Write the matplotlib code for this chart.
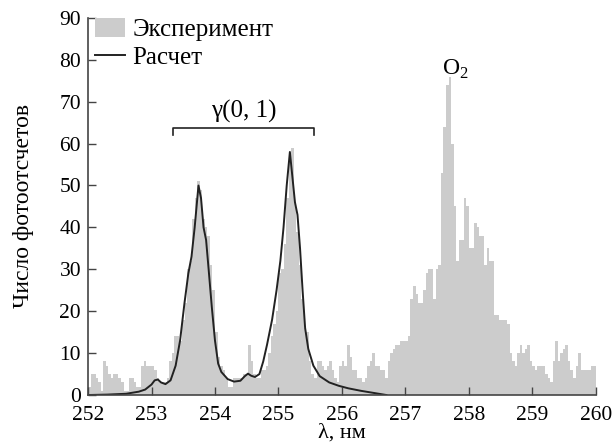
import numpy as np
import matplotlib
matplotlib.use("Agg")
import matplotlib.pyplot as plt

plt.rcParams['font.family'] = ['Liberation Serif', 'DejaVu Serif']
plt.rcParams['mathtext.fontset'] = 'custom'
plt.rcParams['mathtext.rm'] = 'Liberation Serif'

# experiment: photon counts per 0.04 nm bin, 252.00 .. 260.00 nm
bin_start = 252.0
bin_width = 0.04
counts = [
    2, 5, 5, 4, 3, 1, 8, 7, 5, 4, 5, 5, 4, 3, 1, 1, 4, 4, 3, 2, 2, 7, 8, 7, 7,
    7, 6, 4, 3, 3, 3, 4, 8, 10, 14, 14, 13, 18, 22, 30, 32, 42, 47, 51, 49, 42, 40, 38, 31, 25,
    15, 9, 7, 6, 4, 2, 2, 4, 4, 4, 4, 5, 5, 12, 8, 5, 4, 4, 6, 6, 7, 10, 14, 17, 20,
    29, 30, 36, 47, 56, 59, 46, 39, 31, 23, 16, 15, 8, 5, 4, 8, 8, 7, 6, 7, 8, 6, 4, 3, 7,
    8, 7, 12, 9, 6, 6, 4, 4, 3, 4, 7, 8, 10, 7, 7, 6, 6, 4, 8, 10, 11, 12, 12, 13, 13,
    13, 14, 23, 26, 24, 22, 22, 25, 29, 30, 30, 23, 30, 31, 53, 64, 74, 76, 60, 45, 32, 37, 37, 47,
    45, 35, 35, 41, 40, 38, 38, 31, 35, 32, 32, 19, 19, 18, 18, 18, 17, 10, 8, 7, 10,
    12, 10, 11, 12, 8, 7, 6, 7, 7, 7, 5, 4, 3, 8, 13, 8, 10, 11, 12, 8, 6, 4, 7, 10, 6,
    6, 6, 6, 7, 7,
]

# calculation
calc_wl = [252.0, 252.3, 252.6, 252.8, 252.9, 253.0, 253.05, 253.1, 253.15, 253.22,
           253.3, 253.38, 253.45, 253.52, 253.58, 253.63, 253.68, 253.74, 253.78, 253.82,
           253.86, 253.9, 253.95, 254.0, 254.05, 254.1, 254.2, 254.3, 254.4, 254.47,
           254.52, 254.57, 254.63, 254.7, 254.76, 254.82, 254.9, 254.97, 255.03, 255.08,
           255.13, 255.18, 255.22, 255.26, 255.3, 255.34, 255.38, 255.42, 255.47, 255.55,
           255.65, 255.8, 255.95, 256.1, 256.3, 256.5, 256.7]
calc_val = [0.0, 0.1, 0.3, 0.8, 1.3, 2.5, 3.5, 3.7, 3.0, 2.6,
            3.5, 7.0, 13.0, 22.0, 29.0, 33.0, 40.0, 50.0, 47.0, 40.0,
            37.0, 30.0, 21.0, 13.0, 7.5, 5.5, 3.8, 3.2, 3.4, 4.5,
            5.1, 4.6, 4.3, 5.0, 8.0, 12.0, 18.0, 25.0, 32.0, 40.0,
            50.0, 58.0, 52.0, 46.0, 43.0, 35.0, 25.0, 16.0, 11.0, 7.0,
            4.5, 3.0, 2.2, 1.6, 1.0, 0.5, 0.0]

edges = bin_start + bin_width * np.arange(len(counts))

fig = plt.figure(figsize=(6.13, 4.47), dpi=100)
ax = fig.add_axes([0.1436, 0.1163, 0.8284, 0.8437])

bars = ax.bar(edges, counts, width=bin_width, align='edge', color='#cccccc',
              linewidth=0)
line, = ax.plot(calc_wl, calc_val, color='#222222', lw=1.4)

ax.set_xlim(252, 260)
ax.set_ylim(0, 90)
ax.set_xticks(range(252, 261))
ax.set_yticks(range(0, 91, 10))
ax.tick_params(direction='in', length=6, width=1, color='#444444',
               labelsize=15.5)
ax.tick_params(axis='x', pad=8)
ax.tick_params(axis='y', pad=5)
for s in ['top', 'right']:
    ax.spines[s].set_visible(False)
for s in ['left', 'bottom']:
    ax.spines[s].set_color('#444444')
    ax.spines[s].set_linewidth(1.2)

ax.set_xlabel('λ, нм', fontsize=16, labelpad=-1)
ax.set_ylabel('Число фотоотсчетов', fontsize=17, labelpad=18)

# gamma(0,1) bracket
ax.plot([253.34, 253.34, 255.56, 255.56], [62.0, 63.7, 63.7, 62.0],
        color='#222222', lw=1.2)
ax.text(254.45, 65.0, 'γ(0, 1)', ha='center', va='bottom', fontsize=18)
ax.text(257.78, 75.0, r'O$_2$', ha='center', va='bottom', fontsize=17)

ax.legend([bars, line], ['Эксперимент', 'Расчет'], loc='upper left',
          bbox_to_anchor=(0.014, 1.0), frameon=False,
          fontsize=18, handlelength=1.2, handleheight=0.8, handletextpad=0.3,
          labelspacing=0.2, borderaxespad=0.0, borderpad=0.0)

fig.savefig('out.png', dpi=100)
